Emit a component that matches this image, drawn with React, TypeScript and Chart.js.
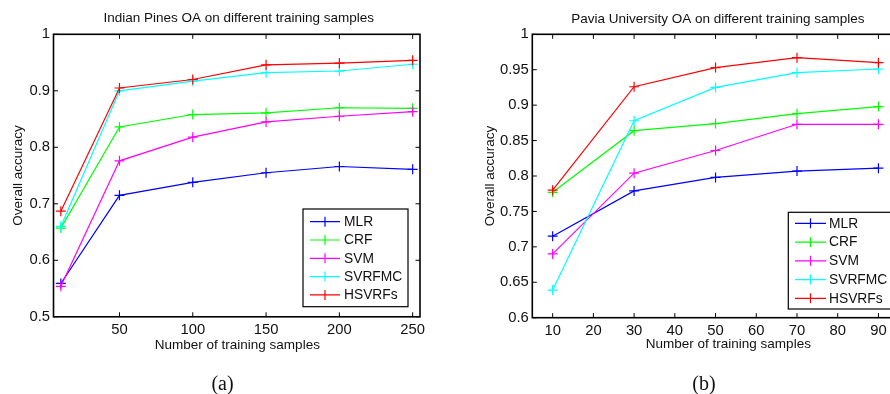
import React, { useEffect, useRef } from "react";
import { Chart, registerables } from "chart.js";

Chart.register(...registerables);

// ---- data ----
const seriesNames = ["MLR", "CRF", "SVM", "SVRFMC", "HSVRFs"];
const seriesColors = ["#0000ff", "#00ff00", "#ff00ff", "#00ffff", "#ff0000"];

const indianX = [10, 50, 100, 150, 200, 250];
const indianMLR = [0.559, 0.715, 0.738, 0.755, 0.766, 0.761];
const indianCRF = [0.657, 0.836, 0.858, 0.861, 0.87, 0.869];
const indianSVM = [0.554, 0.776, 0.818, 0.845, 0.855, 0.863];
const indianSVRFMC = [0.66, 0.9, 0.917, 0.932, 0.935, 0.947];
const indianHSVRFs = [0.687, 0.905, 0.92, 0.946, 0.949, 0.954];
const indianXTicks = [50, 100, 150, 200, 250];
const indianYTicks = [0.5, 0.6, 0.7, 0.8, 0.9, 1];

const paviaX = [10, 30, 50, 70, 90];
const paviaMLR = [0.715, 0.779, 0.798, 0.807, 0.811];
const paviaCRF = [0.777, 0.864, 0.874, 0.888, 0.898];
const paviaSVM = [0.69, 0.804, 0.836, 0.873, 0.873];
const paviaSVRFMC = [0.639, 0.878, 0.925, 0.946, 0.951];
const paviaHSVRFs = [0.78, 0.926, 0.953, 0.967, 0.96];
const paviaXTicks = [10, 20, 30, 40, 50, 60, 70, 80, 90];
const paviaYTicks = [0.6, 0.65, 0.7, 0.75, 0.8, 0.85, 0.9, 0.95, 1];

const SANS = "'Liberation Sans', Arial, Helvetica, sans-serif";
const TEXT = "#111";

type Spec = {
  title: string;
  xTitle: string;
  yTitle: string;
  xs: number[];
  series: number[][];
  xMin: number;
  xMax: number;
  yMin: number;
  yMax: number;
  xTicks: number[];
  yTicks: number[];
  width: number;
  height: number;
  padRight: number;
  yAxisWidth: number;
  xAxisHeight: number;
  padTop: number;
  yTitlePad: number;
  titleDx: number;
  titleY: number;
  xTitleDx: number;
  xTitleY: number;
  legend: { x: number; y: number; w: number; h: number; y0: number; dy: number; lx0: number; lx1: number; tx: number };
};

function fmt(v: number) {
  return String(parseFloat(v.toFixed(3)));
}

function decorPlugin(spec: Spec) {
  return {
    id: "matlabDecor",
    afterDatasetsDraw(chart: any) {
      const { ctx, chartArea: a, scales } = chart;
      const xs = scales.x;
      const ys = scales.y;
      const TL = 4.5;
      ctx.save();
      // inward ticks
      ctx.strokeStyle = "#000";
      ctx.lineWidth = 1;
      ctx.beginPath();
      for (const v of spec.xTicks) {
        const px = xs.getPixelForValue(v);
        ctx.moveTo(px, a.bottom);
        ctx.lineTo(px, a.bottom - TL);
        ctx.moveTo(px, a.top);
        ctx.lineTo(px, a.top + TL);
      }
      for (const v of spec.yTicks) {
        const py = ys.getPixelForValue(v);
        ctx.moveTo(a.left, py);
        ctx.lineTo(a.left + TL, py);
        ctx.moveTo(a.right, py);
        ctx.lineTo(a.right - TL, py);
      }
      ctx.stroke();
      // box
      ctx.lineWidth = 1.6;
      ctx.strokeRect(a.left, a.top, a.right - a.left, a.bottom - a.top);

      // legend
      const L = spec.legend;
      ctx.fillStyle = "#fff";
      ctx.fillRect(L.x, L.y, L.w, L.h);
      ctx.lineWidth = 1.2;
      ctx.strokeStyle = "#000";
      ctx.strokeRect(L.x, L.y, L.w, L.h);
      ctx.font = `13.8px ${SANS}`;
      ctx.textAlign = "left";
      ctx.textBaseline = "middle";
      chart.data.datasets.forEach((ds: any, i: number) => {
        const y = L.y0 + i * L.dy;
        ctx.strokeStyle = ds.borderColor;
        ctx.lineWidth = 1.2;
        ctx.beginPath();
        ctx.moveTo(L.lx0, y);
        ctx.lineTo(L.lx1, y);
        const cx = (L.lx0 + L.lx1) / 2;
        ctx.moveTo(cx, y - 5);
        ctx.lineTo(cx, y + 5);
        ctx.stroke();
        ctx.fillStyle = TEXT;
        ctx.fillText(ds.label, L.tx, y + 0.5);
      });

      // titles
      ctx.fillStyle = TEXT;
      ctx.textAlign = "center";
      ctx.textBaseline = "middle";
      ctx.font = `13.5px ${SANS}`;
      const cx = (a.left + a.right) / 2;
      ctx.fillText(spec.title, cx + spec.titleDx, spec.titleY);
      ctx.fillText(spec.xTitle, cx + spec.xTitleDx, spec.xTitleY);
      ctx.restore();
    },
  };
}

function ChartPanel({ spec }: { spec: Spec }) {
  const ref = useRef<HTMLCanvasElement | null>(null);
  useEffect(() => {
    if (!ref.current) return;
    const datasets = spec.series.map((vals, i) => ({
      label: seriesNames[i],
      data: spec.xs.map((x, j) => ({ x, y: vals[j] })),
      borderColor: seriesColors[i],
      backgroundColor: seriesColors[i],
      borderWidth: 1.2,
      pointStyle: "cross",
      pointRadius: 5,
      pointBorderWidth: 1.2,
      pointBorderColor: seriesColors[i],
      tension: 0,
      order: spec.series.length - i,
    }));
    const chart = new Chart(ref.current, {
      type: "line",
      data: { datasets },
      options: {
        animation: false,
        responsive: false,
        devicePixelRatio: 1,
        events: [],
        layout: { padding: { left: 0, right: spec.padRight, top: spec.padTop, bottom: 0 } },
        plugins: { legend: { display: false }, tooltip: { enabled: false }, title: { display: false } },
        scales: {
          x: {
            type: "linear",
            min: spec.xMin,
            max: spec.xMax,
            grid: { display: false, drawTicks: false },
            border: { display: false },
            afterBuildTicks: (s: any) => {
              s.ticks = spec.xTicks.map((v) => ({ value: v }));
            },
            afterFit: (s: any) => {
              s.height = spec.xAxisHeight;
            },
            ticks: {
              autoSkip: false,
              maxRotation: 0,
              padding: 4,
              color: TEXT,
              font: { size: 14.8, family: SANS },
              callback: (v: any) => fmt(Number(v)),
            },
          },
          y: {
            type: "linear",
            min: spec.yMin,
            max: spec.yMax,
            grid: { display: false, drawTicks: false },
            border: { display: false },
            afterBuildTicks: (s: any) => {
              s.ticks = spec.yTicks.map((v) => ({ value: v }));
            },
            afterFit: (s: any) => {
              s.width = spec.yAxisWidth;
            },
            title: {
              display: true,
              text: spec.yTitle,
              color: TEXT,
              font: { size: 13.5, family: SANS },
              padding: { top: spec.yTitlePad, bottom: 0 },
            },
            ticks: {
              autoSkip: false,
              padding: 3.5,
              color: TEXT,
              font: { size: 14.8, family: SANS },
              callback: (v: any) => fmt(Number(v)),
            },
          },
        },
      },
      plugins: [decorPlugin(spec)],
    } as any);
    return () => chart.destroy();
  }, [spec]);
  return <canvas ref={ref} width={spec.width} height={spec.height} style={{ display: "block" }} />;
}

const indianSpec: Spec = {
  title: "Indian Pines OA on different training samples",
  xTitle: "Number of training samples",
  yTitle: "Overall accuracy",
  xs: indianX,
  series: [indianMLR, indianCRF, indianSVM, indianSVRFMC, indianHSVRFs],
  xMin: 5,
  xMax: 255,
  yMin: 0.5,
  yMax: 1,
  xTicks: indianXTicks,
  yTicks: indianYTicks,
  width: 445,
  height: 394,
  padRight: 25,
  yAxisWidth: 53.5,
  xAxisHeight: 77.2,
  padTop: 34.3,
  yTitlePad: 9.9,
  titleDx: 2,
  titleY: 18.2,
  xTitleDx: 0.6,
  xTitleY: 344.8,
  legend: { x: 303, y: 209, w: 105, h: 97.7, y0: 221.7, dy: 18.3, lx0: 310, lx1: 340, tx: 344 },
};

const paviaSpec: Spec = {
  title: "Pavia University OA on different training samples",
  xTitle: "Number of training samples",
  yTitle: "Overall accuracy",
  xs: paviaX,
  series: [paviaMLR, paviaCRF, paviaSVM, paviaSVRFMC, paviaHSVRFs],
  xMin: 5,
  xMax: 95,
  yMin: 0.6,
  yMax: 1,
  xTicks: paviaXTicks,
  yTicks: paviaYTicks,
  width: 460,
  height: 394,
  padRight: 6.2,
  yAxisWidth: 87.3,
  xAxisHeight: 76.3,
  padTop: 34.3,
  yTitlePad: 36.9,
  titleDx: 2.3,
  titleY: 19,
  xTitleDx: 12.8,
  xTitleY: 344,
  legend: { x: 343.3, y: 212.3, w: 105, h: 96.7, y0: 223.3, dy: 18.75, lx0: 350, lx1: 381, tx: 384 },
};

export default function App() {
  const caption: React.CSSProperties = {
    position: "absolute",
    top: 370.5,
    fontFamily: "'Liberation Serif', 'Times New Roman', serif",
    fontSize: 20,
    lineHeight: "24px",
    color: "#111",
    transform: "translateX(-50%)",
    whiteSpace: "nowrap",
  };
  return (
    <div
      style={{
        position: "fixed",
        left: 0,
        top: 0,
        width: 890,
        height: 394,
        overflow: "hidden",
        background: "#fff",
      }}
    >
      <div style={{ position: "absolute", left: 0, top: 0 }}>
        <ChartPanel spec={indianSpec} />
      </div>
      <div style={{ position: "absolute", left: 445, top: 0 }}>
        <ChartPanel spec={paviaSpec} />
      </div>
      <div style={{ ...caption, left: 222.5 }}>(a)</div>
      <div style={{ ...caption, left: 704 }}>(b)</div>
    </div>
  );
}
